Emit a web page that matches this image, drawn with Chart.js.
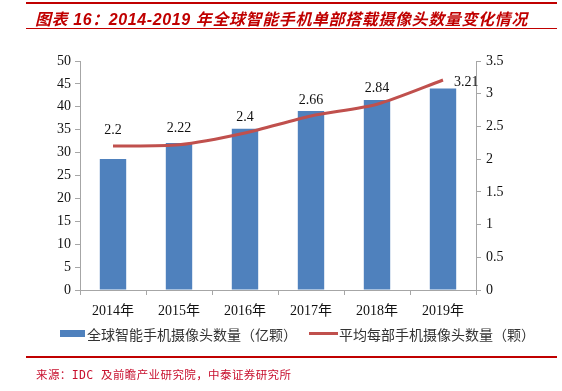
<!DOCTYPE html>
<html>
<head>
<meta charset="utf-8">
<script src="https://cdn.jsdelivr.net/npm/chart.js@4/dist/chart.umd.min.js"></script>
<style>
    body { margin: 0; background: #fff; }
    #wrap { position: relative; width: 562px; height: 391px; overflow: hidden; }
    #chart1 { position: absolute; left: 0; top: 0; }
    .rule { position: absolute; left: 26px; width: 531px; background: #c00000; }
    #title {
        position: absolute; left: 35px; top: 6px; white-space: nowrap;
        font: italic bold 16px 'Liberation Sans', 'Noto Sans CJK SC', sans-serif;
        color: #c00000; letter-spacing: 0.6px;
    }
    #source {
        position: absolute; left: 36px; top: 366px; white-space: nowrap;
        font: 11.5px 'DejaVu Sans Mono', 'Noto Sans CJK SC', monospace;
        color: #c8102e; letter-spacing: 0.4px;
    }
    .lg { position: absolute; top: 324px; white-space: nowrap;
        font: 14px 'Liberation Serif', 'Noto Sans CJK SC', serif; color: #333; }
</style>
</head>
<body>
<div id="wrap">
    <canvas id="chart1" width="562" height="391"></canvas>
    <div class="rule" style="top:2px;height:2px;"></div>
    <div id="title">图表 16：2014-2019 年全球智能手机单部搭载摄像头数量变化情况</div>
    <div class="rule" style="top:28px;height:1px;"></div>
    <div style="position:absolute;left:60px;top:330px;width:25px;height:7px;background:#4f81bd;"></div>
    <div class="lg" style="left:87px;">全球智能手机摄像头数量（亿颗）</div>
    <div style="position:absolute;left:309px;top:332px;width:29px;height:3px;background:#c0504d;"></div>
    <div class="lg" style="left:339px;">平均每部手机摄像头数量（颗）</div>
    <div class="rule" style="top:356px;height:2px;"></div>
    <div id="source">来源：IDC 及前瞻产业研究院，中泰证券研究所</div>
</div>
<script>
// 年份
const years = ['2014年', '2015年', '2016年', '2017年', '2018年', '2019年'];
// 全球智能手机摄像头数量（亿颗）
const cameraTotal = [28.6, 32.1, 35.2, 39.1, 41.5, 44.0];
// 平均每部手机摄像头数量（颗）
const cameraPerPhone = [2.2, 2.22, 2.4, 2.66, 2.84, 3.21];
const perPhoneLabels = ['2.2', '2.22', '2.4', '2.66', '2.84', '3.21'];

const AXIS_GRAY = '#a6a6a6';
const TICK_FONT = { family: "'Liberation Serif', 'Noto Sans CJK SC', serif", size: 14 };

// 折线上方的数值标签
const lineLabels = {
    id: 'lineLabels',
    afterDatasetsDraw(chart) {
        const meta = chart.getDatasetMeta(1);
        const ctx = chart.ctx;
        ctx.save();
        ctx.font = "14px 'Liberation Serif', serif";
        ctx.fillStyle = '#111';
        ctx.textBaseline = 'middle';
        meta.data.forEach((pt, i) => {
            if (i === meta.data.length - 1) {
                ctx.textAlign = 'left';
                ctx.fillText(perPhoneLabels[i], pt.x + 11, pt.y + 2);
            } else {
                ctx.textAlign = 'center';
                ctx.fillText(perPhoneLabels[i], pt.x, pt.y - 16);
            }
        });
        ctx.restore();
    },
};

const ctx = document.getElementById('chart1').getContext('2d');
const chart = new Chart(ctx, {
    type: 'bar',
    data: {
        labels: years,
        datasets: [
            {
                label: '全球智能手机摄像头数量（亿颗）',
                data: cameraTotal,
                backgroundColor: '#4f81bd',
                yAxisID: 'y',
                order: 1,
                categoryPercentage: 1,
                barPercentage: 0.4,
            },
            {
                label: '平均每部手机摄像头数量（颗）',
                data: cameraPerPhone,
                type: 'line',
                borderColor: '#c0504d',
                backgroundColor: '#c0504d',
                borderWidth: 3,
                pointRadius: 0,
                tension: 0.25,
                yAxisID: 'y1',
                order: 0,
            },
        ],
    },
    options: {
        responsive: false,
        animation: false,
        layout: { padding: { left: 0, right: 0, top: 61, bottom: 0 } },
        plugins: {
            legend: { display: false },
            tooltip: { enabled: false },
        },
        scales: {
            x: {
                offset: true,
                grid: {
                    offset: true,
                    drawOnChartArea: false,
                    color: AXIS_GRAY,
                    tickLength: 5,
                },
                border: { color: AXIS_GRAY },
                ticks: { color: '#111', font: TICK_FONT, padding: 8, maxRotation: 0 },
                afterFit(scale) { scale.height = 101; },
            },
            y: {
                position: 'left',
                min: 0,
                max: 50,
                ticks: { stepSize: 5, color: '#111', font: TICK_FONT, padding: 4 },
                grid: { drawOnChartArea: false, color: AXIS_GRAY, tickLength: 5 },
                border: { color: AXIS_GRAY },
                afterFit(scale) { scale.width = 80; },
            },
            y1: {
                position: 'right',
                min: 0,
                max: 3.5,
                ticks: {
                    stepSize: 0.5,
                    color: '#111',
                    font: TICK_FONT,
                    padding: 5,
                    callback: value => String(value),
                },
                grid: { drawOnChartArea: false, color: AXIS_GRAY, tickLength: 5 },
                border: { color: AXIS_GRAY },
                afterFit(scale) { scale.width = 86; },
            },
        },
    },
    plugins: [lineLabels],
});
</script>
</body>
</html>
